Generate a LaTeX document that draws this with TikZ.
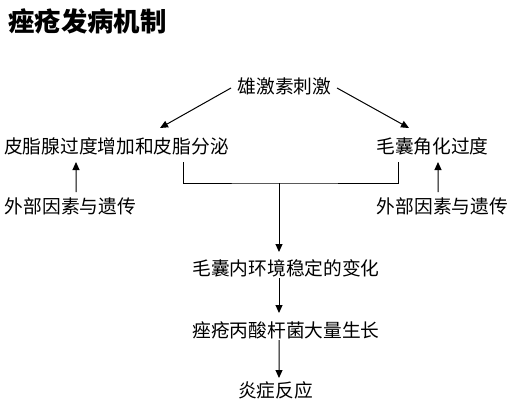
\documentclass[tikz,border=0pt]{standalone}
\usepackage{fontspec}
\setmainfont{Noto Sans CJK SC}[BoldFont={Noto Sans CJK SC Black}]
\usetikzlibrary{arrows.meta}
\tikzset{
  lbl/.style={inner sep=0pt, outer sep=0pt, font=\fontsize{18.8}{20}\selectfont},
  ttl/.style={inner sep=0pt, outer sep=0pt, font=\fontsize{26.5}{28}\selectfont\bfseries},
  conn/.style={line width=1bp, black},
  arr/.style={conn, -{Triangle[length=8bp,width=7bp]}}
}
\begin{document}
\begin{tikzpicture}[x=1bp,y=-1bp]
\useasboundingbox[fill=white] (0,0) rectangle (524,409);
\node[ttl] (title) at (87.5,21) {痤疮发病机制};
\node[lbl] (stim) at (284.5,86) {雄激素刺激};
\node[lbl] (sebum) at (116.5,146) {皮脂腺过度增加和皮脂分泌};
\node[lbl] (kerat) at (432.5,146) {毛囊角化过度};
\node[lbl] (extL) at (70.5,206) {外部因素与遗传};
\node[lbl] (extR) at (442.5,206) {外部因素与遗传};
\node[lbl] (env) at (286,268) {毛囊内环境稳定的变化};
\node[lbl] (bact) at (286,330) {痤疮丙酸杆菌大量生长};
\node[lbl] (infl) at (275.5,390) {炎症反应};
\coordinate (join) at (279,183);
\draw[arr] ([shift={(-53.5,2)}]stim.center) -- ([shift={(43.5,-18)}]sebum.center);
\draw[arr] ([shift={(52.5,2)}]stim.center) -- ([shift={(-23.5,-18)}]kerat.center);
\draw[arr] ([shift={(5.5,-14)}]extL.center) -- ([shift={(-40.5,16)}]sebum.center);
\draw[arr] ([shift={(-4.5,-14)}]extR.center) -- ([shift={(5.5,16)}]kerat.center);
\draw[conn] ([shift={(66.5,16)}]sebum.center) |- (join) -| ([shift={(-34.5,16)}]kerat.center);
\draw[arr] (join) -- ([shift={(-7,-16)}]env.center);
\draw[arr] ([shift={(-7,10)}]env.center) -- ([shift={(-7,-17)}]bact.center);
\draw[arr] ([shift={(-7,10)}]bact.center) -- ([shift={(3.5,-12)}]infl.center);
\end{tikzpicture}
\end{document}
